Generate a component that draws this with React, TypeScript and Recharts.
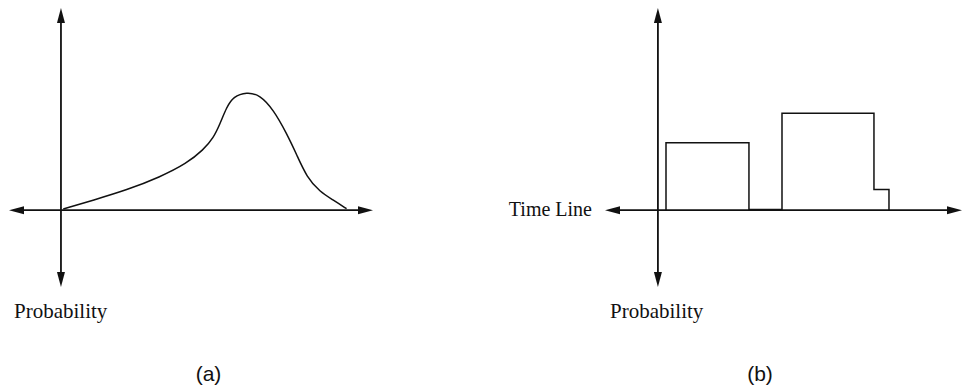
import { LineChart, Line, XAxis, YAxis, ReferenceLine } from "recharts";

// (a) continuous probability over time
const curveTime = [0.08, 1.13, 2.29, 3.45, 4.38, 4.96, 5.31, 5.54, 5.77, 6.0, 6.47, 6.93, 7.4, 7.86, 8.21, 8.56, 9.02, 9.49, 9.95];
const curveProb = [0.01, 0.085, 0.17, 0.28, 0.395, 0.51, 0.61, 0.73, 0.87, 0.96, 1.0, 0.975, 0.85, 0.65, 0.47, 0.28, 0.155, 0.085, 0.012];

// (b) piecewise constant probability
const stepTime = [0.35, 0.35, 3.94, 5.37, 9.35, 10];
const stepProb = [0, 0.57, 0.005, 0.82, 0.175, 0];

const domainA = { x: [-1.81, 10.87], y: [-0.65, 1.71] };
const domainB = { x: [-2.29, 13.16], y: [-0.65, 1.71] };

const curveData = curveTime.map((t, i) => ({ t, p: curveProb[i] }));
const stepData = stepTime.map((t, i) => ({ t, p: stepProb[i] }));

const INK = "#111";

function head(tx: number, ty: number, dx: number, dy: number) {
  const len = 15;
  const hw = 4;
  const bx = tx - dx * len;
  const by = ty - dy * len;
  return `${tx},${ty} ${bx - dy * hw},${by + dx * hw} ${bx + dy * hw},${by - dx * hw}`;
}

function DoubleArrow(props: any) {
  const { x1, y1, x2, y2 } = props;
  if ([x1, y1, x2, y2].some((v) => typeof v !== "number" || isNaN(v))) return null;
  const L = Math.hypot(x2 - x1, y2 - y1) || 1;
  const dx = (x2 - x1) / L;
  const dy = (y2 - y1) / L;
  return (
    <g>
      <line x1={x1 + dx * 10} y1={y1 + dy * 10} x2={x2 - dx * 10} y2={y2 - dy * 10} stroke={INK} strokeWidth={1.8} />
      <polygon points={head(x2, y2, dx, dy)} fill={INK} />
      <polygon points={head(x1, y1, -dx, -dy)} fill={INK} />
    </g>
  );
}

function Axes({ d }: { d: { x: number[]; y: number[] } }) {
  return [
    <ReferenceLine
      key="h"
      segment={[{ x: d.x[0], y: 0 }, { x: d.x[1], y: 0 }]}
      shape={DoubleArrow}
      ifOverflow="visible"
    />,
    <ReferenceLine
      key="v"
      segment={[{ x: 0, y: d.y[0] }, { x: 0, y: d.y[1] }]}
      shape={DoubleArrow}
      ifOverflow="visible"
    />,
  ];
}

const serif = "'Liberation Serif', 'Times New Roman', serif";
const sans = "'Liberation Sans', Arial, sans-serif";

export default function App() {
  return (
    <div style={{ position: "absolute", left: 0, top: 0, width: 963, height: 388, background: "#fff" }}>
      <div style={{ position: "absolute", left: 0, top: 0 }}>
        <LineChart width={400} height={300} data={curveData} margin={{ top: 8, left: 9, right: 27, bottom: 13 }}>
          <XAxis type="number" dataKey="t" domain={domainA.x} hide allowDataOverflow />
          <YAxis type="number" domain={domainA.y} hide allowDataOverflow />
          {Axes({ d: domainA })}
          <Line type="basis" dataKey="p" stroke={INK} strokeWidth={1.5} dot={false} isAnimationActive={false} />
        </LineChart>
      </div>
      <div style={{ position: "absolute", left: 590, top: 0 }}>
        <LineChart width={373} height={300} data={stepData} margin={{ top: 8, left: 15, right: 1, bottom: 13 }}>
          <XAxis type="number" dataKey="t" domain={domainB.x} hide allowDataOverflow />
          <YAxis type="number" domain={domainB.y} hide allowDataOverflow />
          {Axes({ d: domainB })}
          <Line type="stepAfter" dataKey="p" stroke={INK} strokeWidth={1.5} dot={false} isAnimationActive={false} />
        </LineChart>
      </div>
      <svg width={963} height={388} style={{ position: "absolute", left: 0, top: 0, pointerEvents: "none" }}>
        <text x={14} y={318} fontFamily={serif} fontSize={21} fill={INK}>Probability</text>
        <text x={610} y={318} fontFamily={serif} fontSize={21} fill={INK}>Probability</text>
        <text x={592} y={216} textAnchor="end" fontFamily={serif} fontSize={20} fill={INK}>Time Line</text>
        <text x={208.5} y={381} textAnchor="middle" fontFamily={sans} fontSize={21} fill={INK}>(a)</text>
        <text x={760} y={381} textAnchor="middle" fontFamily={sans} fontSize={21} fill={INK}>(b)</text>
      </svg>
    </div>
  );
}
